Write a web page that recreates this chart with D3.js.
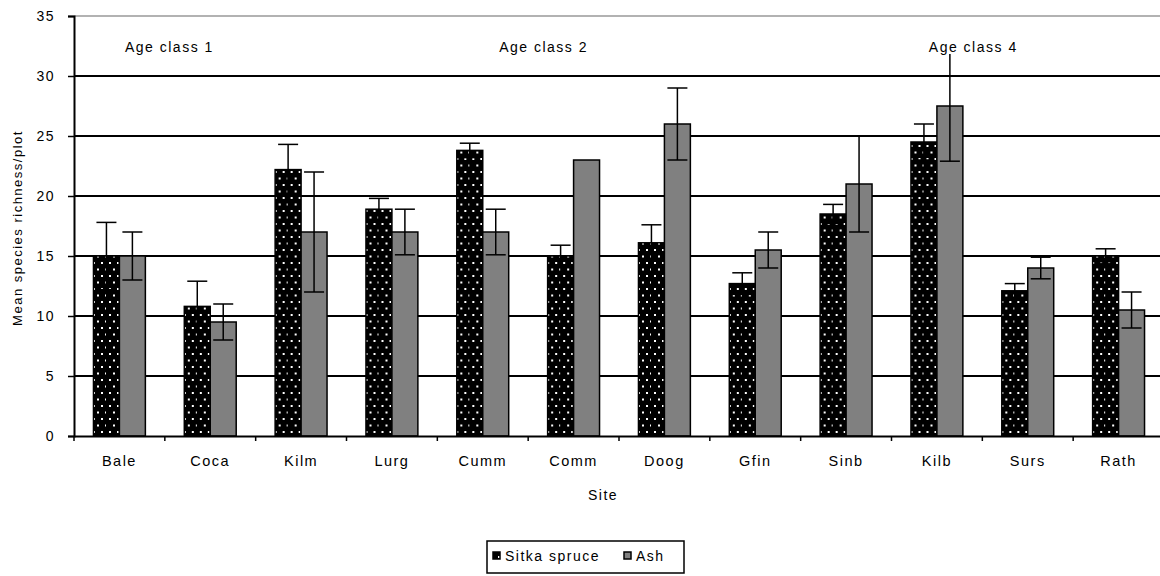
<!DOCTYPE html>
<html>
<head>
<meta charset="utf-8">
<script src="https://cdn.jsdelivr.net/npm/d3@7"></script>
<style>
body { margin: 0; background: #fff; }
text { font-family: "Liberation Sans", Arial, sans-serif; fill: #000; }
.small { font-size: 14px; letter-spacing: 1.5px; }
</style>
</head>
<body>
<svg id="svg"></svg>
<script>
var width = 1160, height = 576;

var sites = ["Bale", "Coca", "Kilm", "Lurg", "Cumm", "Comm", "Doog", "Gfin", "Sinb", "Kilb", "Surs", "Rath"];
var series = ["Sitka spruce", "Ash"];
var sitka = [15, 10.8, 22.2, 18.9, 23.8, 15, 16.1, 12.7, 18.5, 24.5, 12.1, 15];
var sitkaErr = [2.8, 2.1, 2.1, 0.9, 0.6, 0.9, 1.5, 0.9, 0.8, 1.5, 0.6, 0.6];
var ash = [15, 9.5, 17, 17, 17, 23, 26, 15.5, 21, 27.5, 14, 10.5];
var ashErr = [2, 1.5, 5, 1.9, 1.9, 0, 3, 1.5, 4, 4.6, 0.9, 1.5];
var yTicks = [0, 5, 10, 15, 20, 25, 30, 35];
// label text and its place along the category axis, in category steps
var ageNames = ["Age class 1", "Age class 2", "Age class 4"];
var agePos = [1.05, 5.17, 9.9];

var svg = d3.select("#svg")
	.attr("width", width)
	.attr("height", height);

var defs = svg.append("defs");
var pat = defs.append("pattern")
	.attr("id", "dots")
	.attr("patternUnits", "userSpaceOnUse")
	.attr("width", 16)
	.attr("height", 13);
pat.append("rect").attr("width", 16).attr("height", 13).style("fill", "#000");
[[3, 2], [11, 2], [7, 8.5], [15, 8.5]].forEach(function(p) {
	pat.append("rect").attr("x", p[0]).attr("y", p[1]).attr("width", 2).attr("height", 2).style("fill", "#fff");
});

var y = d3.scaleLinear()
	.domain([0, 35])
	.range([436, 16]);
var x = d3.scaleBand()
	.domain(sites)
	.range([74, 1164]);
var xs = d3.scaleBand()
	.domain(series)
	.range([0, x.bandwidth()])
	.paddingInner(0)
	.paddingOuter(0.75);

// gridlines
svg.append("g")
	.selectAll("line")
	.data(yTicks.filter(function(t) { return t > 0; }))
	.enter()
	.append("line")
	.attr("x1", 74)
	.attr("x2", width)
	.attr("y1", function(d) { return y(d); })
	.attr("y2", function(d) { return y(d); })
	.style("stroke", function(d) { return d == 35 ? "#999" : "#000"; })
	.style("stroke-width", function(d) { return d == 35 ? 1.5 : 2; });

var data = sites.map(function(s, i) {
	return [
		{ site: s, key: series[0], v: sitka[i], e: sitkaErr[i] },
		{ site: s, key: series[1], v: ash[i], e: ashErr[i] }
	];
});

var group = svg.selectAll("g.site")
	.data(data)
	.enter()
	.append("g")
	.attr("class", "site")
	.attr("transform", function(d, i) { return "translate(" + x(sites[i]) + ",0)"; });

var bar = group.selectAll("g.bar")
	.data(function(d) { return d; })
	.enter()
	.append("g")
	.attr("class", "bar");

bar.append("rect")
	.attr("x", function(d) { return xs(d.key); })
	.attr("y", function(d) { return y(d.v); })
	.attr("width", xs.bandwidth())
	.attr("height", function(d) { return y(0) - y(d.v); })
	.style("fill", function(d) { return d.key == "Ash" ? "#808080" : "url(#dots)"; })
	.style("stroke", "#000")
	.style("stroke-width", 1.5);

var err = bar.filter(function(d) { return d.e > 0; });
err.append("line")
	.attr("x1", function(d) { return xs(d.key) + xs.bandwidth() / 2; })
	.attr("x2", function(d) { return xs(d.key) + xs.bandwidth() / 2; })
	.attr("y1", function(d) { return y(d.v - d.e); })
	.attr("y2", function(d) { return y(d.v + d.e); })
	.style("stroke", "#000")
	.style("stroke-width", 1.5);
[1, -1].forEach(function(sgn) {
	err.append("line")
		.attr("x1", function(d) { return xs(d.key) + xs.bandwidth() / 2 - 10; })
		.attr("x2", function(d) { return xs(d.key) + xs.bandwidth() / 2 + 10; })
		.attr("y1", function(d) { return y(d.v + sgn * d.e); })
		.attr("y2", function(d) { return y(d.v + sgn * d.e); })
		.style("stroke", "#000")
		.style("stroke-width", 1.5);
});

// axes
var xAxis = d3.axisBottom(x).tickSize(0).tickPadding(20);
var gx = svg.append("g")
	.attr("transform", "translate(0,436)")
	.call(xAxis);
gx.select(".domain").style("stroke", "#000").style("stroke-width", 2);
gx.selectAll("text").attr("class", "small").style("font-size", "14.5px").style("font-family", null);
gx.selectAll(".sep")
	.data(sites.concat(["end"]))
	.enter()
	.append("line")
	.attr("x1", function(d, i) { return 74 + i * x.step(); })
	.attr("x2", function(d, i) { return 74 + i * x.step(); })
	.attr("y1", 0)
	.attr("y2", 5)
	.style("stroke", "#000")
	.style("stroke-width", 1.5);

var yAxis = d3.axisLeft(y).tickValues(yTicks).tickSize(6).tickPadding(13);
var gy = svg.append("g")
	.attr("transform", "translate(74,0)")
	.call(yAxis);
gy.select(".domain").style("stroke", "#000").style("stroke-width", 2);
gy.selectAll("line").style("stroke", "#000").style("stroke-width", 1.5);
gy.selectAll("text").attr("class", "small").style("font-size", "14px").style("font-family", null);

// age class labels (white box behind, as in the source)
ageNames.forEach(function(name, i) {
	var cx = 74 + agePos[i] * x.step();
	svg.append("rect")
		.attr("x", cx - 50).attr("y", 37).attr("width", 100).attr("height", 17)
		.style("fill", "#fff");
	svg.append("text")
		.attr("class", "small")
		.attr("x", cx)
		.attr("y", 52)
		.style("text-anchor", "middle")
		.text(name);
});

svg.append("text")
	.attr("class", "small")
	.attr("x", -228)
	.attr("y", 22)
	.style("text-anchor", "middle")
	.attr("transform", "rotate(-90)")
	.style("font-size", "13px")
	.text("Mean species richness/plot");

svg.append("text")
	.attr("class", "small")
	.attr("x", 603)
	.attr("y", 500)
	.style("text-anchor", "middle")
	.text("Site");

// legend
var lg = svg.append("g").attr("transform", "translate(487,541)");
lg.append("rect")
	.attr("width", 197).attr("height", 32)
	.style("fill", "#fff").style("stroke", "#000").style("stroke-width", 1.5);
var items = [[series[0], 6, "url(#dots)"], [series[1], 137, "#808080"]];
items.forEach(function(it) {
	lg.append("rect")
		.attr("x", it[1]).attr("y", 11).attr("width", 7).attr("height", 7)
		.style("fill", it[2]).style("stroke", "#000").style("stroke-width", 1.5);
	lg.append("text")
		.attr("class", "small")
		.attr("x", it[1] + 12)
		.attr("y", 20)
		.text(it[0]);
});
</script>
</body>
</html>
